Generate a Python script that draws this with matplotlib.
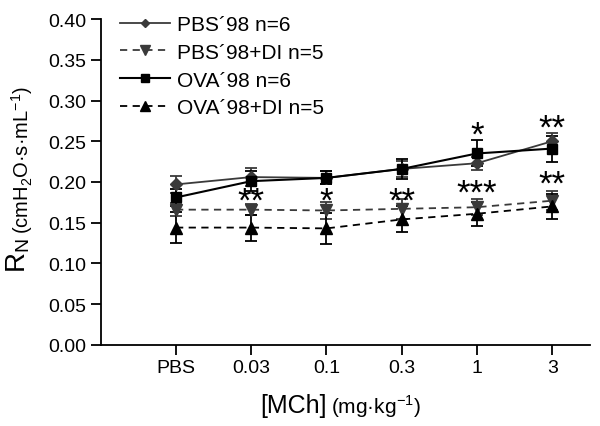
import matplotlib.pyplot as plt
from matplotlib.lines import Line2D
import numpy as np

plt.rcParams['font.family'] = ['Liberation Sans', 'DejaVu Sans']

# dose labels
doses = ['PBS', '0.03', '0.1', '0.3', '1', '3']

# mean RN values and SEM
pbs98 = [0.197, 0.206, 0.205, 0.216, 0.223, 0.250]
pbs98_err = [0.010, 0.011, 0.008, 0.010, 0.008, 0.010]
pbs98_di = [0.166, 0.166, 0.165, 0.167, 0.169, 0.177]
pbs98_di_err = [0.008, 0.007, 0.010, 0.012, 0.010, 0.012]
ova98 = [0.181, 0.201, 0.205, 0.216, 0.235, 0.241]
ova98_err = [0.010, 0.012, 0.008, 0.012, 0.016, 0.016]
ova98_di = [0.144, 0.144, 0.143, 0.154, 0.161, 0.170]
ova98_di_err = [0.019, 0.016, 0.019, 0.016, 0.015, 0.015]

# significance stars (dose index, y position, text)
stars_x = [1, 2, 3, 4, 5, 4, 5]
stars_y = [0.177, 0.177, 0.177, 0.186, 0.197, 0.258, 0.266]
stars_txt = ['**', '*', '**', '***', '**', '*', '**']

labels = ['PBS\u00b498 n=6', 'PBS\u00b498+DI n=5', 'OVA\u00b498 n=6', 'OVA\u00b498+DI n=5']

x = np.arange(len(doses))

fig = plt.figure(figsize=(6, 4.27), dpi=100)
ax = fig.add_axes([0.168, 0.19, 0.815, 0.763])

dash = (0, (4, 3))
ekw = dict(capsize=4, elinewidth=1.3, capthick=1.3)
styles = [
    dict(color='#3a3a3a', marker='D', ms=6, lw=1.3, ls='-'),
    dict(color='#3a3a3a', marker='v', ms=8, lw=1.3, ls=dash),
    dict(color='black', marker='s', ms=7.5, lw=1.5, ls='-'),
    dict(color='black', marker='^', ms=8, lw=1.3, ls=dash),
]
series = [(pbs98, pbs98_err), (pbs98_di, pbs98_di_err),
          (ova98, ova98_err), (ova98_di, ova98_di_err)]

for (m, e), st in zip(series, styles):
    ax.errorbar(x, m, yerr=e, **st, **ekw)

for xi, yi, t in zip(stars_x, stars_y, stars_txt):
    ax.text(xi, yi, t, ha='center', va='center', fontsize=25)

ax.set_xlim(-1, 5.5)
ax.set_ylim(0, 0.40)
ax.set_xticks(x)
ax.set_xticklabels(doses)
ax.set_yticks(np.arange(0, 0.401, 0.05))
ax.set_yticklabels([f'{v:.2f}' for v in np.arange(0, 0.401, 0.05)])
ax.tick_params(labelsize=14, length=7, width=1.3)
ax.spines['top'].set_visible(False)
ax.spines['right'].set_visible(False)
ax.spines['left'].set_linewidth(1.3)
ax.spines['bottom'].set_linewidth(1.3)

handles = [Line2D([], [], **dict(st, ms=st['ms'] - 1.5)) for st in styles]
ax.legend(handles, labels, loc='upper left', bbox_to_anchor=(0.0, 1.07),
          frameon=False, fontsize=15, handlelength=2.4, handletextpad=0.35,
          labelspacing=0.42)

# axis labels with mixed font sizes
fig.text(0.03, 0.36, 'R$_\\mathregular{N}$', rotation=90, ha='center',
         va='bottom', fontsize=20)
fig.text(0.037, 0.452, '(cmH$_\\mathregular{2}$O\u00b7s\u00b7mL$^\\mathregular{-1}$)',
         rotation=90, ha='center', va='bottom', fontsize=14.5)
fig.text(0.545, 0.032, '[MCh]', ha='right', va='baseline', fontsize=18)
fig.text(0.552, 0.032, '(mg\u00b7kg$^\\mathregular{-1}$)', ha='left',
         va='baseline', fontsize=15)

fig.savefig('out.png', dpi=100)
